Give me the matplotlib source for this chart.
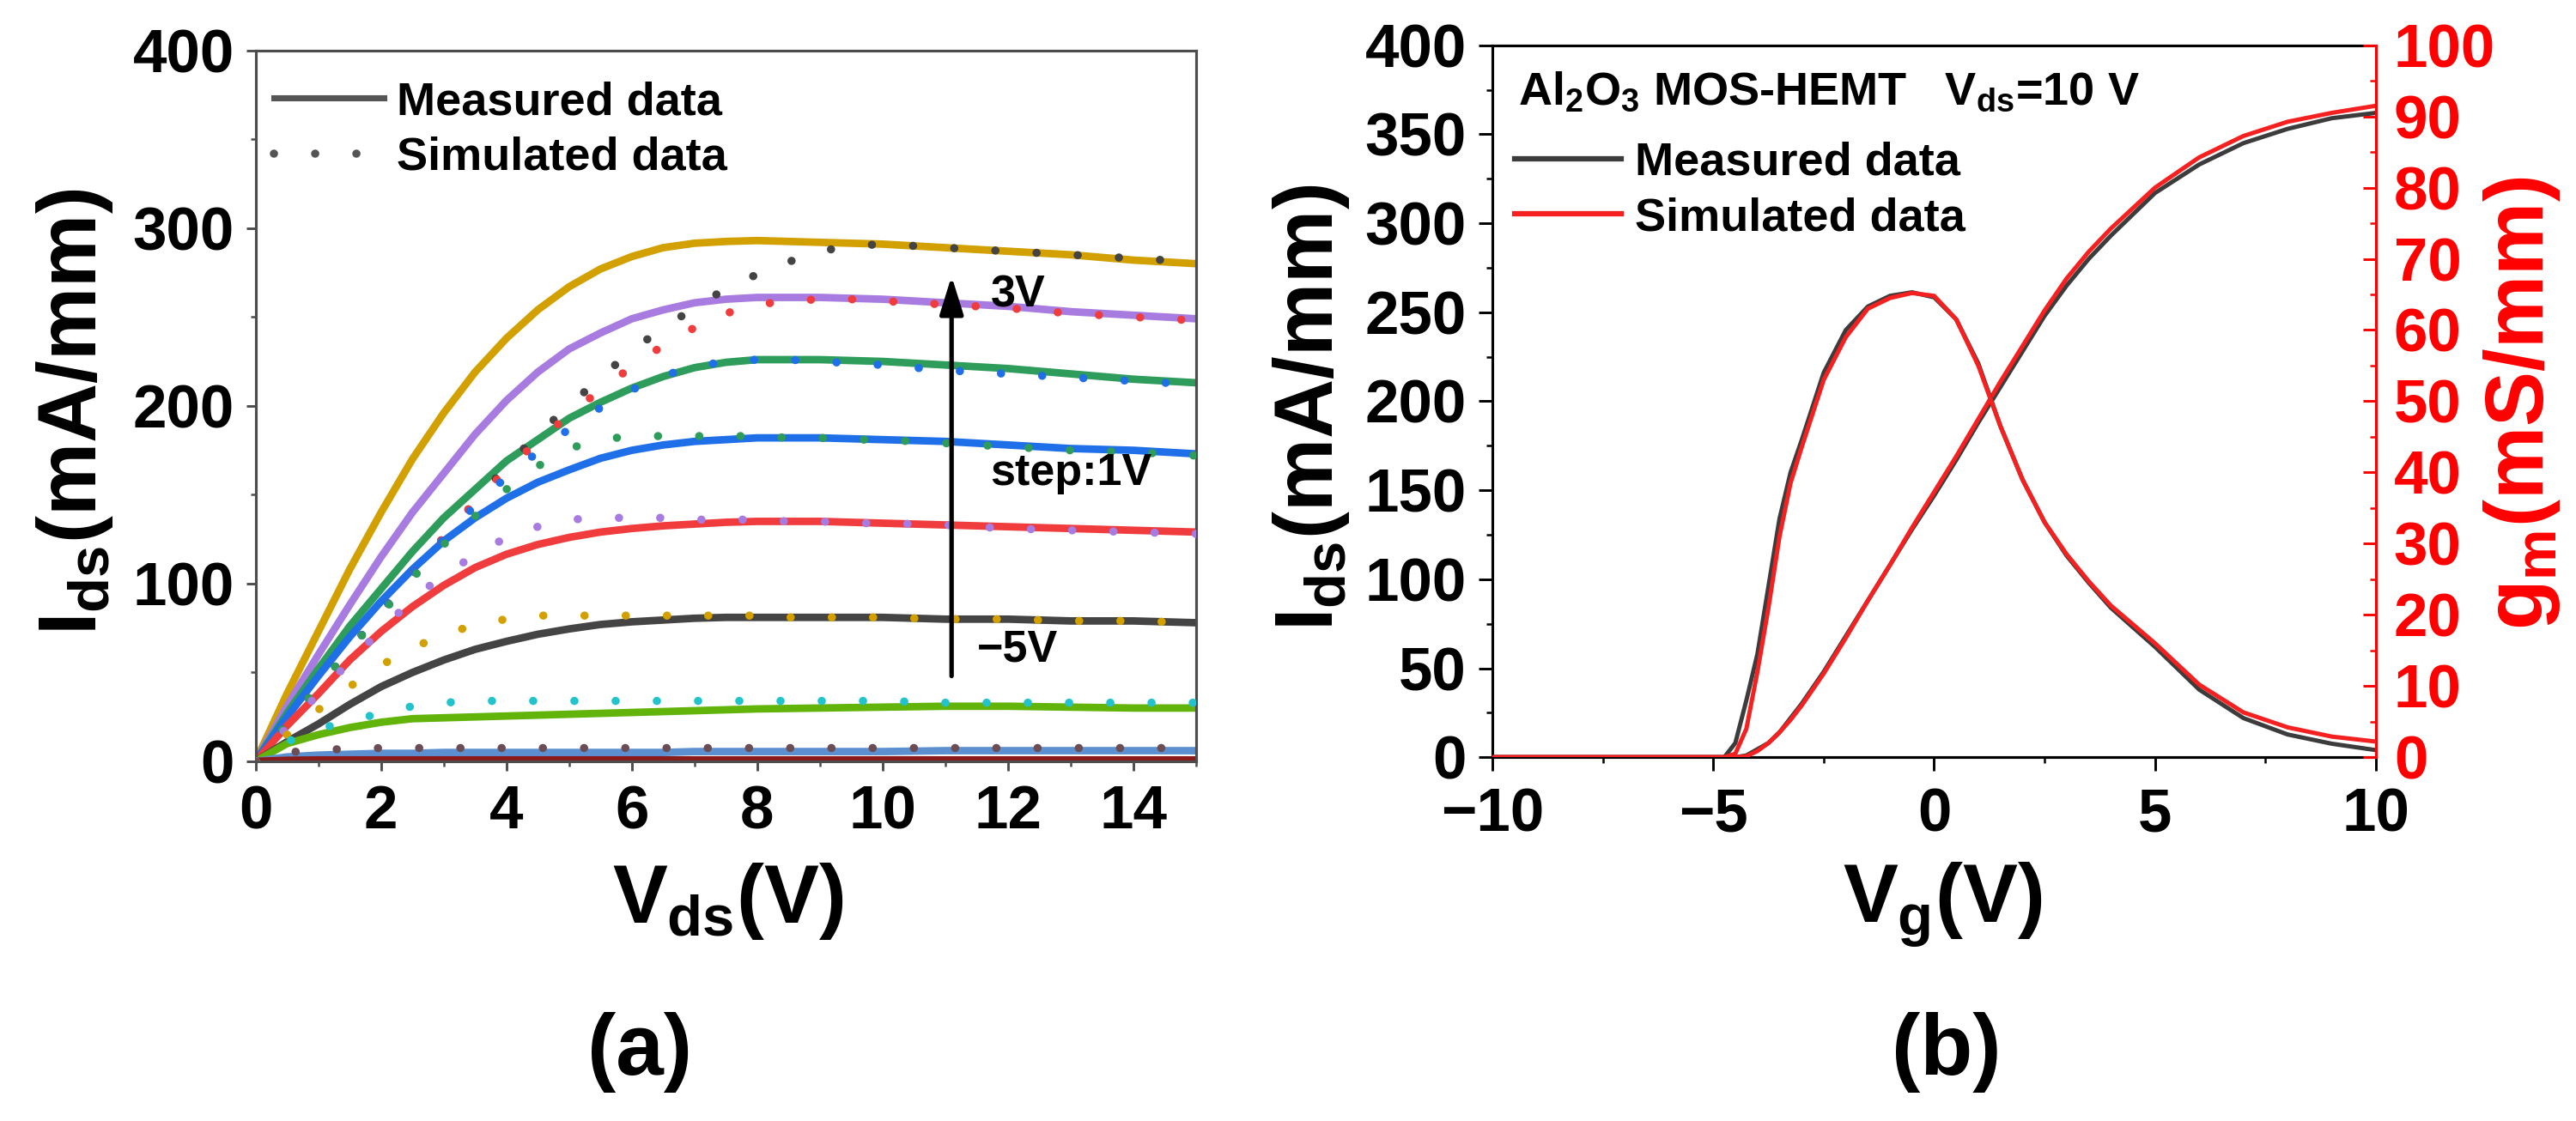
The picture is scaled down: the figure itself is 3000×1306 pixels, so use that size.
import matplotlib
matplotlib.use('Agg')
import matplotlib.pyplot as plt
from matplotlib.lines import Line2D
from matplotlib.ticker import MultipleLocator, FixedLocator

plt.rcParams['font.family'] = ['Liberation Sans', 'DejaVu Sans']
plt.rcParams['font.weight'] = 'bold'
plt.rcParams['mathtext.fontset'] = 'custom'
plt.rcParams['mathtext.rm'] = 'Liberation Sans:bold'
plt.rcParams['mathtext.it'] = 'Liberation Sans:bold'
plt.rcParams['mathtext.bf'] = 'Liberation Sans:bold'

# ---------------- data: panel (a) output characteristics ----------------
vds_meas = [0, 0.5, 1, 1.5, 2, 2.5, 3, 3.5, 4, 4.5, 5, 5.5, 6, 6.5, 7, 7.5, 8, 9, 10, 11, 12, 13, 14, 15]
meas_gold = [0, 38, 73, 108, 140, 170, 196, 219, 238, 254, 267, 277, 284, 289, 291.5, 292.5, 293, 292, 291, 289, 287, 285, 282, 280]
meas_purple = [0, 31, 60, 88, 115, 140, 162, 184, 203, 219, 232, 241, 249, 254, 258, 260, 261, 261, 260, 258, 256, 253, 251, 249]
meas_green = [0, 27, 52, 76, 97, 118, 137, 153, 169, 181, 193, 202, 210, 216.5, 221.5, 224.5, 226, 226, 225, 223, 221, 218, 215, 213]
meas_blue = [0, 25, 48, 70, 90, 108, 124, 137, 148, 157, 164, 170.5, 175, 178, 180, 181, 182, 182, 181, 180, 178, 176, 175, 173]
meas_red = [0, 20, 38, 57, 73, 87, 99, 109, 116.5, 122, 126, 129, 131, 132.5, 133.5, 134.5, 135, 135, 134, 133, 132, 131, 130, 129]
meas_dgray = [0, 11, 21, 32, 42, 50, 57, 63, 67.5, 71.5, 74.5, 77, 78.5, 79.5, 80.5, 81, 81, 81, 81, 80, 80, 79, 79, 78]
meas_lime = [0, 10, 15, 19, 22, 24, 24.5, 25, 25.5, 26, 26.5, 27, 27.5, 28, 28.5, 29, 29.5, 30, 30.5, 31, 31, 30.5, 30, 30]
meas_steel = [0, 2.5, 3.5, 4, 4.5, 4.5, 5, 5, 5, 5, 5, 5, 5, 5, 5.5, 5.5, 5.5, 5.5, 5.5, 6, 6, 6, 6, 6]
meas_dred = [0, 0.6, 0.8, 0.8, 0.8, 0.8, 0.8, 0.8, 0.8, 0.8, 0.8, 0.8, 0.8, 0.8, 0.8, 0.8, 0.8, 0.8, 0.8, 0.8, 0.8, 0.8, 0.8, 0.8]

vds_sim = [0, 0.5, 1, 1.5, 2, 2.5, 3, 3.5, 4, 4.5, 5, 5.5, 6, 6.5, 7, 7.5, 8, 8.5, 9, 9.5, 10, 11, 12, 13, 14, 15]
sim_dgray = [0, 21, 42, 63, 84, 105, 126, 146, 166, 184, 200, 216, 231, 244, 255, 266, 274, 281, 287, 290, 291, 289, 287, 285, 283, 281]
sim_red = [0, 21, 42, 63, 84, 105, 126, 146, 164, 180, 195, 209, 222, 234, 244, 252, 257, 259, 260, 260, 259, 257, 255, 252, 250, 248]
sim_blue = [0, 21, 42, 63, 84, 105, 125, 144, 160, 174, 187, 199, 209, 217, 222, 225, 226, 226, 225, 224, 223, 220, 218, 216, 214, 212]
sim_green = [0, 21, 42, 63, 83, 103, 122, 138, 153, 166, 176, 181, 183, 183, 183, 183, 183, 182, 182, 181, 181, 179, 177, 175, 174, 172]
sim_purple = [0, 19, 38, 56, 74, 91, 105, 116, 126, 132, 136, 137, 137, 137, 136, 136, 136, 135, 135, 134, 134, 133, 131, 130, 129, 128]
sim_gold = [0, 15, 29, 42, 54, 64, 71, 77, 80, 82, 82, 82, 82, 82, 82, 82, 82, 81, 81, 81, 81, 80, 80, 79, 79, 78]
sim_cyan = [0, 11, 18, 23, 27, 31, 33, 34, 34, 34, 34, 34, 34, 34, 34, 34, 34, 34, 34, 34, 34, 33, 33, 33, 33, 33]
sim_brown = [0, 5, 6.5, 7, 7.5, 7.5, 7.5, 7.5, 7.5, 7.5, 7.5, 7.5, 7.5, 7.5, 7.5, 7.5, 7.5, 7.5, 7.5, 7.5, 7.5, 7.5, 7.5, 7.5, 7.5, 7.5]

meas_series = [meas_gold, meas_purple, meas_green, meas_blue, meas_red, meas_dgray, meas_lime, meas_steel, meas_dred]
meas_colors = ['#D2A000', '#A77BDF', '#2E9C5A', '#1E6FE8', '#F03C3C', '#444444', '#62B30A', '#5B8FCF', '#8B1A1A']
sim_series = [sim_dgray, sim_red, sim_blue, sim_green, sim_purple, sim_gold, sim_cyan, sim_brown]
sim_colors = ['#444444', '#F03C3C', '#1E6FE8', '#2E9C5A', '#A77BDF', '#D2A000', '#22C3CC', '#6B4E55']

a_xticks = [0, 2, 4, 6, 8, 10, 12, 14]
a_yticks = [0, 100, 200, 300, 400]

# ---------------- data: panel (b) transfer characteristics ----------------
vg = [-10, -5, -4.75, -4.5, -4.25, -4, -3.75, -3.5, -3.25, -3, -2.5, -2, -1.5, -1, -0.5, 0, 0.5, 1, 1.5, 2, 2.5, 3, 3.5, 4, 5, 6, 7, 8, 9, 10]
ids_meas = [0, 0, 0, 0, 1, 4.5, 8, 14, 22, 30, 48, 68, 88, 108, 128, 147, 167, 188, 208, 228, 248, 265, 280, 293, 317, 333, 345, 353, 359, 362]
ids_sim = [0, 0, 0, 0, 0.5, 3.5, 8, 14, 21, 29, 47, 67, 88, 108, 129, 149, 169, 190, 211, 231, 251, 269, 284, 297, 320, 337, 349, 357, 362, 366]
gm_meas = [0, 0, 0, 2, 8, 14.5, 24, 33.5, 40, 44.5, 54, 60, 63.3, 64.8, 65.3, 64.6, 61.5, 55.3, 46.5, 39, 33, 28.3, 24.5, 21, 15.5, 9.5, 5.5, 3.2, 1.9, 1.0]
gm_sim = [0, 0, 0, 0.5, 4, 12, 21, 31, 38.5, 43.5, 53, 59, 63, 64.5, 65.2, 64.8, 61.5, 55, 46.5, 39, 33, 28.5, 24.7, 21.3, 16, 10.2, 6.3, 4.2, 2.9, 2.2]

b_xticks = [-10, -5, 0, 5, 10]
b_yticks = [0, 50, 100, 150, 200, 250, 300, 350, 400]
b_y2ticks = [0, 10, 20, 30, 40, 50, 60, 70, 80, 90, 100]

DOT = (0, (0.01, 5.0))

fig = plt.figure(figsize=(20, 1306 / 150), dpi=150)
ax1 = fig.add_axes([0.09923, 0.32083, 0.36510, 0.63423])
ax2 = fig.add_axes([0.57933, 0.32450, 0.34300, 0.63515])

# ---------------- panel (a) ----------------
for ys, c in zip(meas_series, meas_colors):
    ax1.plot(vds_meas, ys, color=c, lw=4.2, solid_capstyle='round', solid_joinstyle='round', zorder=2)
for ys, c in zip(sim_series, sim_colors):
    ax1.plot(vds_sim, ys, color=c, lw=4.6, linestyle=DOT, dash_capstyle='round', zorder=3)

ax1.set_xlim(0, 15)
ax1.set_ylim(0, 400)
ax1.xaxis.set_major_locator(FixedLocator(a_xticks))
ax1.xaxis.set_minor_locator(MultipleLocator(1))
ax1.yaxis.set_major_locator(FixedLocator(a_yticks))
ax1.yaxis.set_minor_locator(MultipleLocator(50))
ax1.set_xticklabels([str(t) for t in a_xticks])
ax1.set_yticklabels([str(t) for t in a_yticks])
spine_gray = '#4D4D4D'
for s in ax1.spines.values():
    s.set_color(spine_gray)
    s.set_linewidth(1.5)
ax1.tick_params(axis='both', which='major', direction='out', length=5.5, width=1.4,
                color=spine_gray, labelsize=34)
ax1.tick_params(axis='both', which='minor', direction='out', length=3, width=1.2, color=spine_gray)
ax1.tick_params(axis='y', which='major', pad=6.5)
ax1.tick_params(axis='x', which='major', pad=7.5)

ax1.annotate('', xy=(11.1, 273), xytext=(11.1, 48),
             arrowprops=dict(arrowstyle='-|>,head_length=0.45,head_width=0.14', lw=2.5,
                             color='black', mutation_scale=40, shrinkA=0, shrinkB=0))
ax1.text(11.72, 262, '3V', fontsize=25, ha='left', va='center')
ax1.text(11.72, 162, 'step:1V', fontsize=25, ha='left', va='center')
ax1.text(11.5, 63, '\u22125V', fontsize=25, ha='left', va='center')

h_meas = Line2D([], [], color='#555555', lw=3.4)
h_sim = Line2D([], [], color='#555555', lw=4.6, linestyle=DOT, dash_capstyle='round')
ax1.legend([h_meas, h_sim], ['Measured data', 'Simulated data'], loc='upper left',
           bbox_to_anchor=(0.1063, 0.928), bbox_transform=fig.transFigure,
           frameon=False, fontsize=26, handlelength=2.36, handletextpad=0.28,
           labelspacing=0.27, borderpad=0, borderaxespad=0)

# ---------------- panel (b) ----------------
ax3 = ax2.twinx()
ax2.plot(vg, ids_meas, color='#3C3C3C', lw=2.4, zorder=2)
ax2.plot(vg, ids_sim, color='#F52020', lw=2.4, zorder=3)
ax3.plot(vg, gm_meas, color='#3C3C3C', lw=2.4, zorder=2)
ax3.plot(vg, gm_sim, color='#F52020', lw=2.4, zorder=3)

ax2.set_xlim(-10, 10)
ax2.set_ylim(0, 400)
ax3.set_ylim(0, 100)
ax2.xaxis.set_major_locator(FixedLocator(b_xticks))
ax2.xaxis.set_minor_locator(MultipleLocator(2.5))
ax2.yaxis.set_major_locator(FixedLocator(b_yticks))
ax2.yaxis.set_minor_locator(MultipleLocator(25))
ax2.set_xticklabels([str(t).replace('-', '\u2212') for t in b_xticks])
ax2.set_yticklabels([str(t) for t in b_yticks])
ax3.yaxis.set_major_locator(FixedLocator(b_y2ticks))
ax3.yaxis.set_minor_locator(MultipleLocator(5))
ax3.set_yticklabels([str(t) for t in b_y2ticks])

for s in ax2.spines.values():
    s.set_color('black')
    s.set_linewidth(1.5)
ax2.spines['right'].set_visible(False)
for name in ['left', 'top', 'bottom']:
    ax3.spines[name].set_visible(False)
ax3.spines['right'].set_color('red')
ax3.spines['right'].set_linewidth(1.5)

ax2.tick_params(axis='both', which='major', direction='out', length=7.5, width=1.4, labelsize=34)
ax2.tick_params(axis='both', which='minor', direction='out', length=3.4, width=1.2)
ax2.tick_params(axis='y', which='major', pad=7)
ax2.tick_params(axis='x', which='major', pad=9.5)
ax3.tick_params(axis='y', which='major', direction='in', length=7, width=1.4, color='red',
                labelcolor='red', labelsize=34, pad=10)
ax3.tick_params(axis='y', which='minor', direction='in', length=3.6, width=1.2, color='red')

ax2.text(0.5893, 0.9066, r'Al$_2$O$_3$ MOS-HEMT   V$_{ds}$=10 V', transform=fig.transFigure,
         fontsize=26, ha='left', va='baseline')
hb1 = Line2D([], [], color='#3C3C3C', lw=3.0)
hb2 = Line2D([], [], color='#F52020', lw=3.0)
ax3.legend([hb1, hb2], ['Measured data', 'Simulated data'], loc='upper left',
           bbox_to_anchor=(0.588, 0.874), bbox_transform=fig.transFigure,
           frameon=False, fontsize=26, handlelength=2.29, handletextpad=0.3,
           labelspacing=0.27, borderpad=0, borderaxespad=0)

# ---------------- labels ----------------
fig.text(0.029, 0.6325, r'$I_{ds}$(mA/mm)', fontsize=46, rotation=90, ha='center', va='center')
fig.text(0.2827, 0.1769, r'$V_{ds}$(V)', fontsize=46, ha='center', va='baseline')
fig.text(0.509, 0.6363, r'$I_{ds}$(mA/mm)', fontsize=46, rotation=90, ha='center', va='center')
fig.text(0.754, 0.1769, r'$V_g$(V)', fontsize=46, ha='center', va='baseline')
fig.text(0.979, 0.6401, r'$g_m$(mS/mm)', fontsize=46, rotation=90, ha='center', va='center',
         color='red')
fig.text(0.2483, 0.0413, '(a)', fontsize=48, ha='center', va='baseline')
fig.text(0.7557, 0.0413, '(b)', fontsize=48, ha='center', va='baseline')

fig.savefig('out.png', dpi=150, facecolor='white')
